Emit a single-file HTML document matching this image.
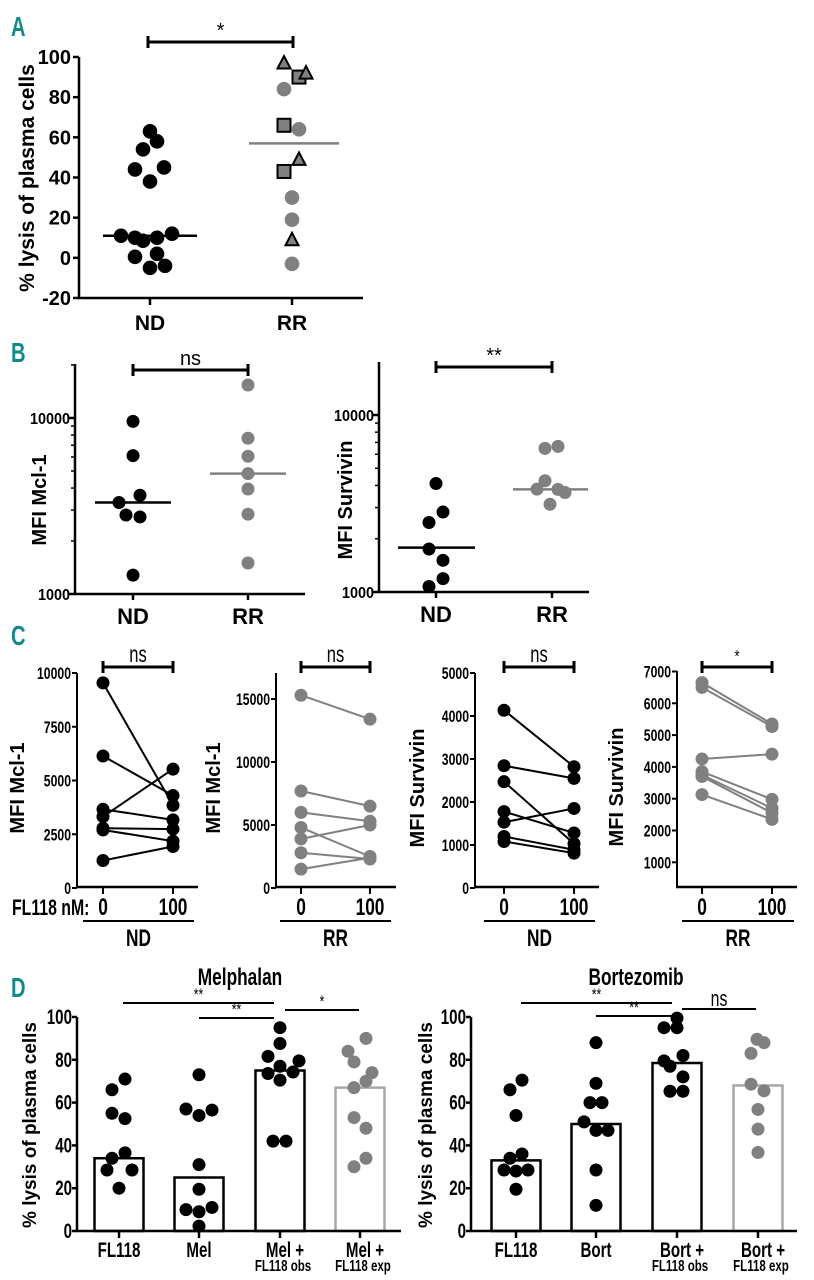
<!DOCTYPE html>
<html><head><meta charset="utf-8">
<style>
html,body{margin:0;padding:0;background:#fff;}
svg{display:block;}
text{font-family:"Liberation Sans",sans-serif;}
</style></head>
<body>
<svg id="fig" width="814" height="1280" viewBox="0 0 814 1280" xmlns="http://www.w3.org/2000/svg"></svg>
<script>
// ---------- Panel A data ----------
const A_ndValues=[63,58,54,45,44,38,12,11,10,10,8.5,2,0.5,-4,-5];
const A_ndJitter=[0,7,-7,14,-15,0,22,-29,-15,7,-7,7,-15,15,0];
const A_rrCircles=[84,64,30,19,-3];
const A_rrCircleJitter=[-8,7,0,0,0];
const A_rrSquares=[90,66,43];
const A_rrSquareJitter=[7,-8,-8];
const A_rrTriangles=[97,92,49,9];
const A_rrTriangleJitter=[-8,14,7,0];
const A_medians=[11,57];
const A_ticks=[100,80,60,40,20,0,-20];
// ---------- Panel B data ----------
const B1_nd=[9570,6110,3640,3310,2810,2740,1280];
const B1_ndJitter=[0,0,7,-14,-7,7,0];
const B1_rr=[15400,7670,6060,4830,3950,2840,1500];
const B1_medians=[3310,4830];
const B2_nd=[4100,2830,2470,1750,1510,1190,1075];
const B2_ndJitter=[0,7,-7,-7,7,7,-7];
const B2_rr=[6650,6480,4250,3810,3800,3650,3130];
const B2_rrJitter=[6,-7,-7,-15,6,13,-2];
const B2_medians=[1780,3800];
// ---------- Panel C data ----------
const C1_before=[9540,6140,3320,3660,2780,2700,1280];
const C1_after=[3850,4300,5530,3170,2740,2180,1930];
const C1_ticks=[0,2500,5000,7500,10000];
const C2_before=[15300,7700,6000,4800,3900,2800,1500];
const C2_after=[13400,6500,5300,2500,5000,2300,2400];
const C2_ticks=[0,5000,10000,15000];
const C3_before=[4134,2844,2473,1777,1530,1198,1082];
const C3_after=[2820,2550,1030,1280,1850,890,810];
const C3_ticks=[0,1000,2000,3000,4000,5000];
const C4_before=[6650,6500,4250,3850,3750,3700,3130];
const C4_after=[5350,5270,4400,2980,2700,2550,2350];
const C4_ticks=[1000,2000,3000,4000,5000,6000,7000];
// ---------- Panel D data ----------
const D_ticks=[0,20,40,60,80,100];
const D1_bars=[34,25,75,67];
const D1_points=[[71,66,55,52.5,36.5,34,28.5,28.5,20],[73,57,54,56.5,31,19.5,10,9,11,2.3],[95,87.6,81.6,79.5,77,73.6,74.3,70.5,42,42],[90,84,79,74,70,67,53,48,34,30]];
const D1_jitter=[[6,-7,-7,6,6,-7,-12,13,0],[0,-13,0,13,0,0,-13,0,13,0],[0,0,-12,19,0,-12,13,0,-7,6],[6,-12,-6,12,6,-6,-6,6,6,-6]];
const D2_bars=[33,50,78.5,68];
const D2_points=[[70.5,66,54,36,34,28.5,28.5,28,19.5],[88,69,60,60,51,47,47,28.5,12],[99.5,95,95,82,79.5,77,72,65.3,65.3],[89.6,88,83,68.6,65.5,56.8,47.6,36.7]];
const D2_jitter=[[6,-6,0,6,-6,-12,12,0,0],[0,0,-6,6,-12,0,12,0,0],[0,-13,0,6,-13,-7,6,-7,6],[-1,6,-7,-7,6,0,0,0]];

const svg=document.getElementById('fig');
const NS='http://www.w3.org/2000/svg';
function el(tag,attrs,parent){const e=document.createElementNS(NS,tag);for(const k in attrs)e.setAttribute(k,attrs[k]);(parent||svg).appendChild(e);return e;}
function grp(name){const g=el('g',{});


return g;}
function ln(g,x1,y1,x2,y2,c,w,name){const e=el('line',{x1,y1,x2,y2,stroke:c||'#000','stroke-width':w||2},g);


return e;}
function tx(g,x,y,s,opts,name){const o=Object.assign({size:16,anchor:'middle',weight:'bold',sx:1,fill:'#000',rot:0},opts||{});
const e=el('text',{x:0,y:0,'font-size':o.size,'text-anchor':o.anchor,'font-weight':o.weight,fill:o.fill},g);
let tr='translate('+x+' '+y+')';
if(o.rot)tr+=' rotate('+o.rot+')';
if(o.sx!==1)tr+=' scale('+o.sx+' 1)';
e.setAttribute('transform',tr);
e.textContent=s;


return e;}
const N=0.72;
function dot(g,x,y,r,c,name){const e=el('circle',{cx:x,cy:y,r:r,fill:c},g);


return e;}
function bracket(g,x1,x2,y,label,lsize,sx,name){ln(g,x1,y,x2,y,'#000',3,name+'-line');
ln(g,x1,y-6,x1,y+6,'#000',3,name+'-cap-left');
ln(g,x2,y-6,x2,y+6,'#000',3,name+'-cap-right');
tx(g,(x1+x2)/2,y-5,label,{size:lsize||18,weight:'normal',sx:sx||1},name+'-label');}
function letter(x,y,s){return tx(svg,x,y,s,{size:28,anchor:'start',sx:0.72,fill:'#138a8a'},'panel-letter-'+s.toLowerCase());}

// ================= Panel A =================
(function(){
const g=grp('panel-a');
const yA=v=>57+(100-v)*(241/120);
const xs=[150,292];
letter(11,36,'A');
ln(g,79,57,79,298,'#000',2.5,'y-axis');
ln(g,78,298,363,298,'#000',2.5,'x-axis');
A_ticks.forEach(t=>{ln(g,73,yA(t),79,yA(t),'#000',2.5,'y-tick');
tx(g,71,yA(t)+7,String(t),{size:20,anchor:'end'},'y-tick-label');});
xs.forEach(x=>ln(g,x,298,x,305,'#000',2.5,'x-tick'));
tx(g,150,330,'ND',{size:21},'x-label-nd');
tx(g,292,330,'RR',{size:21},'x-label-rr');
tx(g,34,178,'% lysis of plasma cells',{size:21,rot:-90},'y-axis-title');
bracket(g,148,293,42,'*',20,1,'significance-bracket');
A_ndValues.forEach((v,i)=>dot(g,150+A_ndJitter[i],yA(v),7.3,'#000','point-nd'));
A_rrCircles.forEach((v,i)=>dot(g,292+A_rrCircleJitter[i],yA(v),7.3,'#808080','point-rr-circle'));
A_rrSquares.forEach((v,i)=>{const e=el('rect',{x:292+A_rrSquareJitter[i]-6.5,y:yA(v)-6.5,width:13,height:13,fill:'#808080',stroke:'#000','stroke-width':2},g);

});
A_rrTriangles.forEach((v,i)=>{const x=292+A_rrTriangleJitter[i],y=yA(v);
const e=el('polygon',{points:(x-6.5)+','+(y+5.5)+' '+(x+6.5)+','+(y+5.5)+' '+x+','+(y-7),fill:'#808080',stroke:'#000','stroke-width':2},g);

});
ln(g,103,yA(A_medians[0]),197,yA(A_medians[0]),'#000',2.5,'median-nd');
ln(g,249,yA(A_medians[1]),339,yA(A_medians[1]),'#808080',2.5,'median-rr');
})();

// ================= Panel B =================
function logPanel(name,ax,axEnd,top,y10k,dec,ndX,rrX,nd,ndJ,rr,rrJ,med,ndMed,rrMed,title,sig,brY,titleX){
const g=grp(name);
const y=v=>y10k+(4-Math.log10(v))*dec;
const base=y(1000);
ln(g,ax,top,ax,base,'#000',2.5,'y-axis');
ln(g,ax-1,base,axEnd,base,'#000',2.5,'x-axis');
[1000,10000].forEach(t=>{ln(g,ax-6,y(t),ax,y(t),'#000',2.5,'y-tick');
tx(g,ax-5,y(t)+6,String(t),{size:16,anchor:'end',sx:0.9},'y-tick-label');});
[2000,3000,4000,5000,6000,7000,8000,9000,20000].forEach(t=>{if(y(t)>=top)ln(g,ax-4,y(t),ax,y(t),'#000',1.5,'y-minor-tick');});
[ndX,rrX].forEach(x=>ln(g,x,base,x,base+6,'#000',2.5,'x-tick'));
tx(g,ndX,base+30,'ND',{size:22},'x-label-nd');
tx(g,rrX,base+30,'RR',{size:22},'x-label-rr');
tx(g,titleX,500,title,{size:20,rot:-90},'y-axis-title');
bracket(g,ndX,rrX,brY,sig,20,1,'significance-bracket');
nd.forEach((v,i)=>dot(g,ndX+ndJ[i],y(v),6.5,'#000','point-nd'));
rr.forEach((v,i)=>dot(g,rrX+rrJ[i],y(v),6.5,'#808080','point-rr'));
ln(g,ndMed[0],y(med[0]),ndMed[1],y(med[0]),'#000',2.5,'median-nd');
ln(g,rrMed[0],y(med[1]),rrMed[1],y(med[1]),'#808080',2.5,'median-rr');
}
letter(11,362,'B');
logPanel('panel-b-mcl1',75,305,364,418,176,133,248,B1_nd,B1_ndJitter,B1_rr,[0,0,0,0,0,0,0],B1_medians,[95,171],[210,286],'MFI Mcl-1','ns',370,46);
logPanel('panel-b-survivin',379,589,362,415,177,436,552,B2_nd,B2_ndJitter,B2_rr,B2_rrJitter,B2_medians,[398,475],[513,588],'MFI Survivin','**',367,352);

// ================= Panel C =================
function pairPanel(name,ax,x0,x1,axEnd,top,yf,ticks,before,after,color,title,titleX,sig,group,ulx1,ulx2){
const g=grp(name);
const base=887;
ln(g,ax,top,ax,base,'#000',2,'y-axis');
ln(g,ax-1,base,axEnd,base,'#000',2.5,'x-axis');
ticks.forEach(t=>{ln(g,ax-5,yf(t),ax,yf(t),'#000',2,'y-tick');
tx(g,ax-6,yf(t)+6,String(t),{size:17,anchor:'end',sx:N},'y-tick-label');});
[x0,x1].forEach(x=>ln(g,x,base,x,base+7,'#000',2,'x-tick'));
tx(g,x0,915,'0',{size:24,sx:N},'x-tick-label-0');
tx(g,x1,915,'100',{size:24,sx:N},'x-tick-label-100');
ln(g,ulx1,921,ulx2,921,'#000',2,'group-underline');
tx(g,(ulx1+ulx2)/2,946,group,{size:24,sx:N},'group-label');
tx(g,titleX,(top+base)/2+8,title,{size:20,rot:-90},'y-axis-title');
bracket(g,x0,x1,667,sig,sig==='*'?18:23,N,'significance-bracket');
before.forEach((v,i)=>{ln(g,x0,yf(v),x1,yf(after[i]),color,2,'pair-line');});
before.forEach(v=>dot(g,x0,yf(v),6.5,color,'point-before'));
after.forEach(v=>dot(g,x1,yf(v),6.5,color,'point-after'));
}
letter(11,645,'C');
tx(svg,12,915,'FL118 nM:',{size:22,anchor:'start',sx:N},'fl118-concentration-label');
pairPanel('panel-c-mcl1-nd',77,103,173,198,673,v=>888-v*(215/10000),C1_ticks,C1_before,C1_after,'#000','MFI Mcl-1',24,'ns','ND',83,194);
pairPanel('panel-c-mcl1-rr',276,301,370,396,673,v=>888-v*(189/15000),C2_ticks,C2_before,C2_after,'#808080','MFI Mcl-1',220,'ns','RR',280,391);
pairPanel('panel-c-survivin-nd',475,504,574,599,673,v=>888-v*(215/5000),C3_ticks,C3_before,C3_after,'#000','MFI Survivin',424,'ns','ND',484,595);
pairPanel('panel-c-survivin-rr',677,702,772,797,671,v=>862.3-(v-1000)*0.0318,C4_ticks,C4_before,C4_after,'#808080','MFI Survivin',623,'*','RR',682,794);

// ================= Panel D =================
function barPanel(name,ax,axEnd,centers,bars,pts,jit,title,titleX,labels1,brs,ytitleX){
const g=grp(name);
const y=v=>1231-v*2.14;
ln(g,ax,y(100),ax,1231,'#000',2.5,'y-axis');
D_ticks.forEach(t=>{ln(g,ax-5,y(t),ax,y(t),'#000',2.5,'y-tick');
tx(g,ax-5,y(t)+7,String(t),{size:21,anchor:'end',sx:N},'y-tick-label');});
tx(g,ytitleX,1125,'% lysis of plasma cells',{size:19,rot:-90},'y-axis-title');
tx(g,titleX,985,title,{size:24,sx:N},'chart-title');
bars.forEach((v,i)=>{const c=i===3?'#a8a8a8':'#000';
const e=el('rect',{x:centers[i]-24.5,y:y(v),width:49,height:1231-y(v),fill:'#fff',stroke:c,'stroke-width':2.5},g);

});
ln(g,ax-1,1231,axEnd,1231,'#000',2.5,'x-axis');
centers.forEach((c,i)=>{ln(g,c,1231,c,1238,'#000',2.5,'x-tick');
tx(g,c+(i>=2?5:0),1257,labels1[i],{size:21,sx:N},'x-label');
if(i>=2)tx(g,c+3,1271,i===2?'FL118 obs':'FL118 exp',{size:16,sx:N},'x-sublabel');});
pts.forEach((arr,i)=>arr.forEach((v,j)=>dot(g,centers[i]+jit[i][j],y(v),6.5,i===3?'#808080':'#000','point')));
brs.forEach(b=>{ln(g,b[0],b[2],b[1],b[2],'#000',2,'significance-line');
tx(g,(b[0]+b[1])/2,b[2]-3,b[3],{size:b[3]==='ns'?22:17,weight:'normal',sx:N},'significance-label');});
}
letter(11,997,'D');
barPanel('panel-d-melphalan',77,401,[119,199,280,360],D1_bars,D1_points,D1_jitter,'Melphalan',240,['FL118','Mel','Mel +','Mel  +'],[[123,274,1003,'**'],[199,274,1018,'**'],[285,359,1010,'*']],36);
barPanel('panel-d-bortezomib',471,797,[516,596,677,758],D2_bars,D2_points,D2_jitter,'Bortezomib',636,['FL118','Bort','Bort +','Bort +'],[[521,672,1003,'**'],[596,672,1016,'**'],[682,756,1009,'ns']],432);
</script>
</body></html>
